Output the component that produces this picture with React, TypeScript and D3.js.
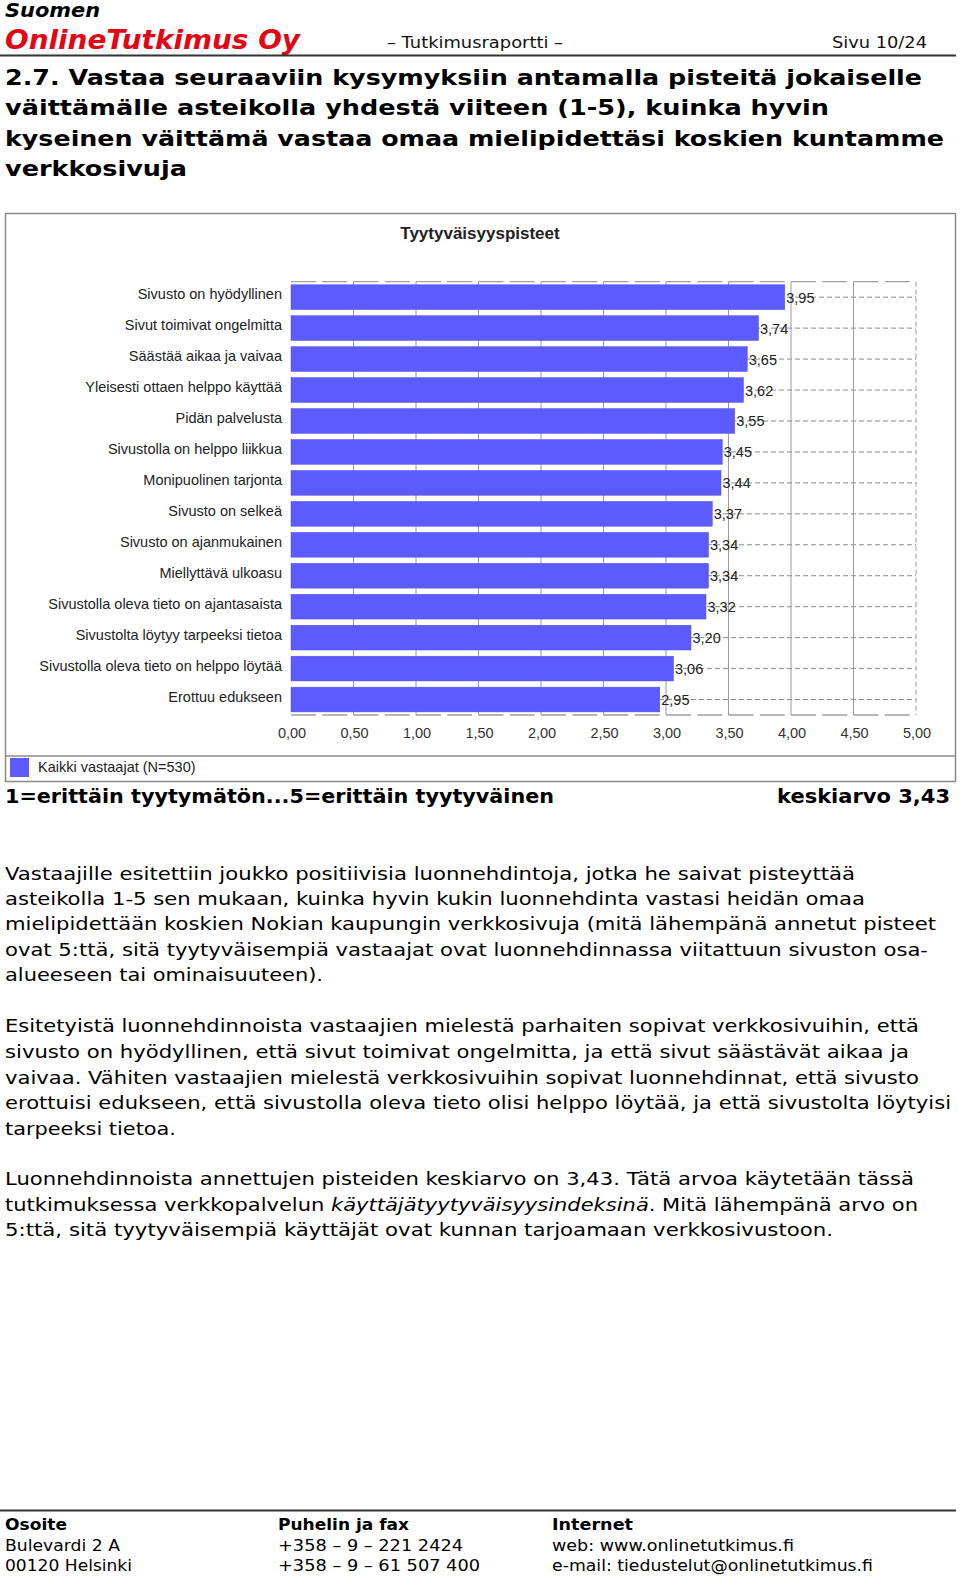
import React from "react";
import * as d3 from "d3";

const categories = [
  "Sivusto on hyödyllinen",
  "Sivut toimivat ongelmitta",
  "Säästää aikaa ja vaivaa",
  "Yleisesti ottaen helppo käyttää",
  "Pidän palvelusta",
  "Sivustolla on helppo liikkua",
  "Monipuolinen tarjonta",
  "Sivusto on selkeä",
  "Sivusto on ajanmukainen",
  "Miellyttävä ulkoasu",
  "Sivustolla oleva tieto on ajantasaista",
  "Sivustolta löytyy tarpeeksi tietoa",
  "Sivustolla oleva tieto on helppo löytää",
  "Erottuu edukseen",
];
const values = [3.95, 3.74, 3.65, 3.62, 3.55, 3.45, 3.44, 3.37, 3.34, 3.34, 3.32, 3.2, 3.06, 2.95];
const tickValues = [0, 0.5, 1, 1.5, 2, 2.5, 3, 3.5, 4, 4.5, 5];

const headingLines = [
  "2.7. Vastaa seuraaviin kysymyksiin antamalla pisteitä jokaiselle",
  "väittämälle asteikolla yhdestä viiteen (1-5), kuinka hyvin",
  "kyseinen väittämä vastaa omaa mielipidettäsi koskien kuntamme",
  "verkkosivuja",
];
const headingWidths = [917, 824, 939, 182];

const para1 = [
  "Vastaajille esitettiin joukko positiivisia luonnehdintoja, jotka he saivat pisteyttää",
  "asteikolla 1-5 sen mukaan, kuinka hyvin kukin luonnehdinta vastasi heidän omaa",
  "mielipidettään koskien Nokian kaupungin verkkosivuja (mitä lähempänä annetut pisteet",
  "ovat 5:ttä, sitä tyytyväisempiä vastaajat ovat luonnehdinnassa viitattuun sivuston osa-",
  "alueeseen tai ominaisuuteen).",
];
const para1Widths = [850, 860, 931, 923, 318];
const para2 = [
  "Esitetyistä luonnehdinnoista vastaajien mielestä parhaiten sopivat verkkosivuihin, että",
  "sivusto on hyödyllinen, että sivut toimivat ongelmitta, ja että sivut säästävät aikaa ja",
  "vaivaa. Vähiten vastaajien mielestä verkkosivuihin sopivat luonnehdinnat, että sivusto",
  "erottuisi edukseen, että sivustolla oleva tieto olisi helppo löytää, ja että sivustolta löytyisi",
  "tarpeeksi tietoa.",
];
const para2Widths = [914, 904, 914, 946, 171];
const para3Widths = [909, 913, 828];

const footerCols = [
  ["Osoite", "Bulevardi 2 A", "00120 Helsinki"],
  ["Puhelin ja fax", "+358 – 9 – 221 2424", "+358 – 9 – 61 507 400"],
  ["Internet", "web: www.onlinetutkimus.fi", "e-mail: tiedustelut@onlinetutkimus.fi"],
];
const footerWidths = [
  [62, 115, 127],
  [131, 185, 202],
  [81, 242, 321],
];

const BODY = "'DejaVu Sans', Verdana, sans-serif";
const ARIAL = "'Liberation Sans', Arial, sans-serif";
const BAR = "#5b5bff";

export default function App() {
  const x = d3.scaleLinear().domain([0, 5]).range([291, 916]);
  const y = d3
    .scaleBand<string>()
    .domain(categories)
    .range([281.7, 715])
    .paddingInner(0.2)
    .paddingOuter(0.1);
  const fmt = (v: number) => d3.format(".2f")(v).replace(".", ",");
  const top = 281.7;
  const bottom = 715;

  return (
    <svg
      width={960}
      height={1576}
      style={{ position: "absolute", left: 0, top: 0, background: "#fff" }}
    >
      <rect x={0} y={0} width={960} height={1576} fill="#fff" />
      {/* Header */}
      <text x={5} y={17} fontFamily={BODY} fontWeight="bold" fontStyle="italic" fontSize={19} fill="#000" textLength={95} lengthAdjust="spacingAndGlyphs">
        Suomen
      </text>
      <text x={5} y={49} fontFamily={BODY} fontWeight="bold" fontStyle="italic" fontSize={27} fill="#e30613" textLength={295} lengthAdjust="spacingAndGlyphs">
        OnlineTutkimus Oy
      </text>
      <text x={387} y={48} fontFamily={BODY} fontSize={16} fill="#111" textLength={176} lengthAdjust="spacingAndGlyphs">
        – Tutkimusraportti –
      </text>
      <text x={832} y={48} fontFamily={BODY} fontSize={16} fill="#111" textLength={95} lengthAdjust="spacingAndGlyphs">
        Sivu 10/24
      </text>
      <line x1={0} x2={956} y1={55.5} y2={55.5} stroke="#333" strokeWidth={2} />

      {/* Heading */}
      {headingLines.map((t, i) => (
        <text
          key={i}
          x={5}
          y={84.5 + i * 30.5}
          fontFamily={BODY}
          fontWeight="bold"
          fontSize={21.5}
          fill="#000"
          textLength={headingWidths[i]}
          lengthAdjust="spacingAndGlyphs"
        >
          {t}
        </text>
      ))}

      {/* Chart frame */}
      <rect x={5.5} y={213.5} width={950} height={568} fill="#fff" stroke="#8a8a8a" strokeWidth={1.5} />
      <line x1={5.5} x2={955.5} y1={756} y2={756} stroke="#8a8a8a" strokeWidth={1.5} />
      <text x={480} y={239} textAnchor="middle" fontFamily={ARIAL} fontWeight="bold" fontSize={17} fill="#222">
        Tyytyväisyyspisteet
      </text>

      {/* horizontal dashed lines at bar centers */}
      {categories.map((c) => (
        <line
          key={"h" + c}
          x1={x(0)}
          x2={x(5)}
          y1={(y(c) as number) + y.bandwidth() / 2}
          y2={(y(c) as number) + y.bandwidth() / 2}
          stroke="#8c8c8c"
          strokeWidth={1}
          strokeDasharray="5,3"
        />
      ))}
      {/* vertical gridlines */}
      {tickValues
        .filter((t) => t > 0 && t < 5)
        .map((t) => (
          <line key={"v" + t} x1={x(t)} x2={x(t)} y1={top} y2={bottom} stroke="#9a9a9a" strokeWidth={1} />
        ))}
      {/* top / bottom long dashes */}
      <line x1={x(0)} x2={x(5)} y1={top} y2={top} stroke="#a0a0a0" strokeWidth={1.3} strokeDasharray="25,6.25" />
      <line x1={x(0)} x2={x(5)} y1={bottom} y2={bottom} stroke="#a0a0a0" strokeWidth={1.3} strokeDasharray="25,6.25" />
      <line x1={x(5)} x2={x(5)} y1={top} y2={bottom} stroke="#9a9a9a" strokeWidth={1} strokeDasharray="5,3" />

      {/* bars */}
      {categories.map((c, i) => (
        <rect
          key={"b" + c}
          x={x(0)}
          y={y(c)}
          width={x(values[i]) - x(0)}
          height={y.bandwidth()}
          fill={BAR}
          stroke="#5050ee"
          strokeWidth={0.5}
        />
      ))}
      {/* value labels */}
      {categories.map((c, i) => (
        <text
          key={"l" + c}
          x={x(values[i]) + 1.5}
          y={(y(c) as number) + y.bandwidth() / 2 + 5.5}
          fontFamily={ARIAL}
          fontSize={14.5}
          fill="#222"
        >
          {fmt(values[i])}
        </text>
      ))}
      {/* category labels */}
      {categories.map((c) => (
        <text
          key={"c" + c}
          x={282}
          y={(y(c) as number) + y.bandwidth() / 2 + 2}
          textAnchor="end"
          fontFamily={ARIAL}
          fontSize={14.5}
          fill="#222"
        >
          {c}
        </text>
      ))}
      {/* tick labels */}
      {tickValues.map((t) => (
        <text key={"t" + t} x={x(t) + 1} y={738} textAnchor="middle" fontFamily={ARIAL} fontSize={14.5} fill="#333">
          {fmt(t)}
        </text>
      ))}
      {/* legend */}
      <rect x={10} y={758} width={19} height={19} fill={BAR} />
      <text x={38} y={772} fontFamily={ARIAL} fontSize={14.5} fill="#222">
        Kaikki vastaajat (N=530)
      </text>

      {/* scale note */}
      <text x={5} y={803} fontFamily={BODY} fontWeight="bold" fontSize={19.5} fill="#000" textLength={549} lengthAdjust="spacingAndGlyphs">
        1=erittäin tyytymätön...5=erittäin tyytyväinen
      </text>
      <text x={777} y={803} fontFamily={BODY} fontWeight="bold" fontSize={19.5} fill="#000" textLength={173} lengthAdjust="spacingAndGlyphs">
        keskiarvo 3,43
      </text>

      {/* paragraphs */}
      {para1.map((t, i) => (
        <text key={"p1" + i} x={5} y={879.5 + i * 25.4} fontFamily={BODY} fontSize={17.5} fill="#000" textLength={para1Widths[i]} lengthAdjust="spacingAndGlyphs">
          {t}
        </text>
      ))}
      {para2.map((t, i) => (
        <text key={"p2" + i} x={5} y={1032.3 + i * 25.6} fontFamily={BODY} fontSize={17.5} fill="#000" textLength={para2Widths[i]} lengthAdjust="spacingAndGlyphs">
          {t}
        </text>
      ))}
      <text x={5} y={1185.1} fontFamily={BODY} fontSize={17.5} fill="#000" textLength={para3Widths[0]} lengthAdjust="spacingAndGlyphs">
        Luonnehdinnoista annettujen pisteiden keskiarvo on 3,43. Tätä arvoa käytetään tässä
      </text>
      <text x={5} y={1211.3} fontFamily={BODY} fontSize={17.5} fill="#000" textLength={para3Widths[1]} lengthAdjust="spacingAndGlyphs">
        tutkimuksessa verkkopalvelun <tspan fontStyle="italic">käyttäjätyytyväisyysindeksinä</tspan>. Mitä lähempänä arvo on
      </text>
      <text x={5} y={1236.4} fontFamily={BODY} fontSize={17.5} fill="#000" textLength={para3Widths[2]} lengthAdjust="spacingAndGlyphs">
        5:ttä, sitä tyytyväisempiä käyttäjät ovat kunnan tarjoamaan verkkosivustoon.
      </text>

      {/* footer */}
      <line x1={0} x2={956} y1={1510.5} y2={1510.5} stroke="#333" strokeWidth={2} />
      {footerCols.map((col, ci) =>
        col.map((t, ri) => (
          <text
            key={"f" + ci + ri}
            x={[5, 278, 552][ci]}
            y={1530 + ri * 20.5}
            fontFamily={BODY}
            fontWeight={ri === 0 ? "bold" : "normal"}
            fontSize={16.5}
            fill="#000"
            textLength={footerWidths[ci][ri]}
            lengthAdjust="spacingAndGlyphs"
          >
            {t}
          </text>
        ))
      )}
    </svg>
  );
}
